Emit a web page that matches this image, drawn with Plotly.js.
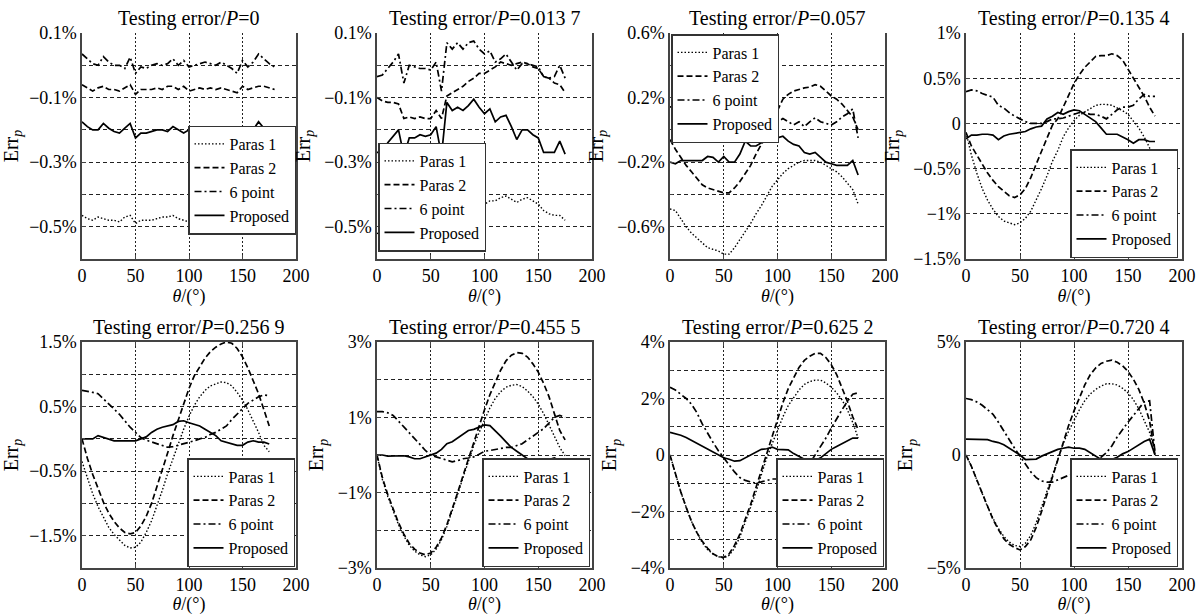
<!DOCTYPE html>
<html><head><meta charset="utf-8">
<script src="https://cdn.plot.ly/plotly-3.0.1.min.js"></script>
<style>html,body{margin:0;padding:0;background:#fff}#chart{width:1198px;height:615px}</style>
</head><body><div id="chart"></div>
<script>
// ---------------- DATA ----------------
const seriesNames = ['Paras 1','Paras 2','6 point','Proposed'];
const xTickVals = [0,50,100,150,200];
const xTickText = ['0','50','100','150','200'];

const thetaLong = [0,5,10,15,20,25,30,35,40,45,50,55,60,65,70,75,80,85,90,95,100,105,110,115,120,125,130,135,140,145,150,155,160,165,170,175,180];
const theta = [0,5,10,15,20,25,30,35,40,45,50,55,60,65,70,75,80,85,90,95,100,105,110,115,120,125,130,135,140,145,150,155,160,165,170,175];

const pValues = ['0','0.013 7','0.057','0.135 4','0.256 9','0.455 5','0.625 2','0.720 4'];

// P = 0
const p0_paras1 = [-0.465,-0.475,-0.48,-0.47,-0.475,-0.48, -0.48,-0.485,-0.47,-0.465,-0.49,-0.48, -0.48,-0.48,-0.475,-0.47,-0.47,-0.465, -0.475,-0.48,-0.485,-0.475,-0.475,-0.47, -0.475,-0.475,-0.475,-0.48,-0.485,-0.49, -0.475,-0.475,-0.47,-0.465,-0.47,-0.475,-0.48];
const p0_paras2 = [-0.06,-0.07,-0.08,-0.07,-0.065,-0.075, -0.075,-0.08,-0.07,-0.06,-0.09,-0.075, -0.075,-0.075,-0.07,-0.075,-0.065,-0.065, -0.075,-0.065,-0.08,-0.075,-0.07,-0.075, -0.07,-0.075,-0.07,-0.075,-0.08,-0.085, -0.065,-0.075,-0.07,-0.065,-0.065,-0.07,-0.075];
const p0_six    = [0.035,0.02,0.005,0.0,0.027,0.01, 0.0,0.0,-0.01,0.025,-0.025,-0.005, -0.01,0.0,0.005,0.0,0.005,0.02, 0.0,0.015,-0.005,0.0,0.005,0.01, 0.005,0.0,0.01,0.0,-0.01,-0.025, 0.015,-0.005,0.01,0.035,0.02,0.005,-0.005];
const p0_prop   = [-0.175,-0.19,-0.2,-0.2,-0.18,-0.195, -0.205,-0.21,-0.195,-0.18,-0.225,-0.21, -0.21,-0.205,-0.2,-0.2,-0.205,-0.19, -0.2,-0.21,-0.2,-0.205,-0.2,-0.2, -0.205,-0.2,-0.205,-0.2,-0.225,-0.225, -0.19,-0.205,-0.2,-0.175,-0.195,-0.2,-0.21];

// P = 0.0137
const p1_paras1 = [-0.52,-0.525,-0.525,-0.525,-0.53,-0.57, -0.545,-0.55,-0.55,-0.555,-0.55,-0.535, -0.575,-0.46,-0.44,-0.44,-0.43,-0.43, -0.42,-0.43,-0.43,-0.42,-0.42,-0.41, -0.405,-0.415,-0.425,-0.415,-0.41,-0.42, -0.43,-0.45,-0.46,-0.465,-0.465,-0.48];
const p1_paras2 = [-0.1,-0.11,-0.115,-0.115,-0.12,-0.165, -0.16,-0.165,-0.16,-0.165,-0.165,-0.14, -0.165,-0.095,-0.085,-0.075,-0.065,-0.05, -0.04,-0.025,-0.025,-0.015,-0.005,0.01, 0.005,0.0,0.005,0.01,0.005,-0.005, -0.01,-0.035,-0.04,-0.055,-0.06,-0.085];
const p1_six    = [-0.035,-0.03,-0.01,0.01,0.035,-0.055, 0.0,-0.005,-0.01,-0.01,-0.015,0.01, -0.08,0.07,0.05,0.07,0.05,0.07, 0.075,0.05,0.035,0.045,0.01,0.02, 0.035,0.01,-0.015,0.005,0.005,0.0, -0.005,-0.035,-0.04,-0.035,0.0,-0.04];
const p1_prop   = [-0.27,-0.27,-0.24,-0.22,-0.2,-0.28, -0.225,-0.225,-0.215,-0.22,-0.215,-0.19, -0.28,-0.115,-0.14,-0.13,-0.14,-0.125, -0.105,-0.13,-0.15,-0.135,-0.175,-0.16, -0.155,-0.19,-0.23,-0.2,-0.2,-0.215, -0.225,-0.27,-0.27,-0.27,-0.235,-0.275];

// P = 0.057
const p2_paras1 = [-0.49,-0.5,-0.55,-0.6,-0.64,-0.67, -0.7,-0.73,-0.74,-0.75,-0.77,-0.77, -0.73,-0.68,-0.63,-0.58,-0.52,-0.47, -0.41,-0.35,-0.31,-0.27,-0.24,-0.22, -0.2,-0.19,-0.19,-0.19,-0.2,-0.22, -0.24,-0.26,-0.29,-0.33,-0.37,-0.46];
const p2_paras2 = [-0.06,-0.12,-0.17,-0.22,-0.26,-0.3, -0.34,-0.36,-0.37,-0.38,-0.39,-0.39, -0.36,-0.32,-0.27,-0.22,-0.15,-0.09, -0.02,0.05,0.12,0.19,0.22,0.24, 0.25,0.26,0.265,0.28,0.27,0.24, 0.21,0.19,0.16,0.12,0.08,0.0];
const p2_six    = [0.142,0.14,0.135,0.125,0.115,0.105, 0.09,0.08,0.075,0.04,0.02,-0.035, 0.0,0.03,0.06,0.0,0.005,0.02, 0.035,0.05,0.05,0.07,0.05,0.03, 0.05,0.02,0.05,0.075,0.05,0.04, 0.03,0.05,0.08,0.1,0.13,-0.05];
const p2_prop   = [-0.2,-0.21,-0.19,-0.19,-0.19,-0.19, -0.19,-0.165,-0.17,-0.2,-0.165,-0.2, -0.2,-0.15,-0.07,-0.1,-0.1,-0.08, -0.07,-0.045,-0.05,-0.04,-0.07,-0.09, -0.1,-0.14,-0.15,-0.14,-0.17,-0.2, -0.21,-0.22,-0.22,-0.22,-0.19,-0.28];

// P = 0.1354
const p3_paras1 = [-0.1,-0.35,-0.55,-0.72,-0.85,-0.95, -1.03,-1.08,-1.1,-1.12,-1.1,-1.05, -0.97,-0.85,-0.72,-0.58,-0.42,-0.3, -0.15,-0.05,0.03,0.09,0.13,0.17, 0.2,0.21,0.21,0.2,0.17,0.14, 0.1,0.03,-0.05,-0.15,-0.27,-0.35];
const p3_paras2 = [-0.1,-0.25,-0.35,-0.45,-0.55,-0.63, -0.7,-0.75,-0.8,-0.82,-0.79,-0.72, -0.6,-0.45,-0.3,-0.15,-0.02,0.05, 0.18,0.32,0.44,0.54,0.62,0.68, 0.74,0.75,0.75,0.77,0.75,0.7, 0.6,0.5,0.4,0.3,0.18,0.08];
const p3_six    = [0.35,0.37,0.36,0.33,0.31,0.29, 0.2,0.17,0.12,0.08,0.05,0.02, 0.0,0.0,0.0,0.02,0.05,0.05, 0.06,0.08,0.1,0.12,0.12,0.1, 0.1,0.08,0.05,0.1,0.15,0.18, 0.18,0.2,0.27,0.32,0.3,0.3];
const p3_prop   = [-0.17,-0.13,-0.13,-0.12,-0.12,-0.13, -0.18,-0.14,-0.12,-0.11,-0.1,-0.09, -0.06,-0.04,-0.03,0.05,0.08,0.12, 0.1,0.13,0.15,0.14,0.1,0.06, 0.02,-0.05,-0.12,-0.12,-0.12,-0.15, -0.18,-0.22,-0.18,-0.18,-0.2,-0.2];

// P = 0.2569
const p4_paras1 = [-0.35,-0.6,-0.85,-1.05,-1.22,-1.37, -1.48,-1.57,-1.65,-1.69,-1.68,-1.6, -1.45,-1.27,-1.04,-0.8,-0.54,-0.3, -0.07,0.15,0.35,0.52,0.65,0.75, 0.82,0.85,0.88,0.87,0.82,0.72, 0.6,0.45,0.28,0.1,-0.1,-0.2];
const p4_paras2 = [0.0,-0.3,-0.55,-0.78,-0.98,-1.15, -1.28,-1.38,-1.45,-1.47,-1.45,-1.35, -1.2,-1.0,-0.75,-0.5,-0.22,0.05, 0.3,0.55,0.78,0.98,1.12,1.25, 1.35,1.42,1.47,1.5,1.48,1.4, 1.27,1.1,0.9,0.7,0.45,0.2];
const p4_six    = [0.75,0.74,0.72,0.7,0.62,0.55, 0.47,0.38,0.28,0.18,0.1,0.02, -0.02,-0.05,-0.07,-0.1,-0.13,-0.12, -0.1,-0.08,-0.05,-0.03,0.0,0.02, 0.07,0.1,0.15,0.2,0.3,0.38, 0.47,0.55,0.6,0.65,0.68,0.67];
const p4_prop   = [0.0,0.0,0.0,0.05,0.02,0.0, -0.03,-0.03,-0.03,-0.02,-0.03,0.0, 0.03,0.1,0.15,0.18,0.2,0.22, 0.27,0.28,0.25,0.23,0.2,0.15, 0.1,0.05,-0.03,-0.05,-0.07,-0.1, -0.1,-0.05,-0.03,-0.05,-0.05,-0.08];

// P = 0.4555
const p5_paras1 = [0.0,-0.65,-1.1,-1.5,-1.85,-2.15, -2.4,-2.55,-2.65,-2.7,-2.65,-2.5, -2.25,-1.9,-1.5,-1.05,-0.6,-0.15, 0.25,0.6,0.95,1.25,1.5,1.68, 1.8,1.85,1.87,1.82,1.7,1.55, 1.35,1.1,0.8,0.5,0.2,-0.02];
const p5_paras2 = [0.0,-0.6,-1.05,-1.45,-1.8,-2.1, -2.35,-2.5,-2.6,-2.65,-2.6,-2.45, -2.2,-1.85,-1.45,-1.0,-0.55,-0.1, 0.35,0.8,1.2,1.6,1.95,2.25, 2.5,2.65,2.72,2.7,2.6,2.42, 2.2,1.9,1.55,1.1,0.65,0.4];
const p5_six    = [1.15,1.15,1.12,1.05,0.9,0.75, 0.6,0.45,0.28,0.12,0.0,-0.05, -0.1,-0.15,-0.18,-0.15,-0.1,-0.08, -0.05,0.02,0.1,0.12,0.15,0.17, 0.2,0.2,0.25,0.3,0.4,0.5, 0.6,0.7,0.85,1.0,1.05,1.0];
const p5_prop   = [0.0,0.0,-0.03,-0.03,-0.03,-0.02, -0.05,-0.1,-0.1,-0.05,0.0,0.05, 0.15,0.3,0.35,0.45,0.55,0.65, 0.68,0.75,0.8,0.78,0.65,0.5, 0.35,0.2,0.1,0.0,-0.1,-0.15, -0.15,-0.15,-0.12,-0.08,-0.15,-0.15];

// P = 0.6252
const p6_paras1 = [0.0,-0.7,-1.3,-1.85,-2.35,-2.75, -3.1,-3.35,-3.5,-3.6,-3.65,-3.55, -3.3,-2.9,-2.4,-1.85,-1.3,-0.7, -0.1,0.4,0.9,1.35,1.75,2.05, 2.3,2.5,2.6,2.65,2.65,2.55, 2.4,2.2,1.95,1.6,1.15,0.6];
const p6_paras2 = [0.0,-0.7,-1.3,-1.85,-2.35,-2.75, -3.05,-3.3,-3.5,-3.6,-3.62,-3.5, -3.2,-2.8,-2.3,-1.75,-1.15,-0.55, 0.1,0.7,1.3,1.85,2.35,2.75, 3.1,3.35,3.5,3.6,3.6,3.45, 3.2,2.85,2.4,1.9,1.35,0.9];
const p6_six    = [2.4,2.3,2.15,2.0,1.8,1.5, 1.1,0.75,0.45,0.15,-0.1,-0.35, -0.6,-0.8,-0.9,-0.95,-1.0,-0.95, -0.9,-0.85,-0.85,-0.8,-0.75,-0.65, -0.55,-0.45,-0.3,0.0,0.3,0.6, 0.95,1.3,1.6,1.9,2.15,2.2];
const p6_prop   = [0.8,0.75,0.7,0.62,0.52,0.42, 0.32,0.22,0.12,0.0,-0.1,-0.15, -0.22,-0.2,-0.1,0.0,0.1,0.2, 0.22,0.28,0.2,0.2,0.18,0.05, -0.05,-0.15,-0.22,-0.2,-0.1,0.05, 0.2,0.3,0.4,0.5,0.6,0.6];

// P = 0.7204
const p7_paras1 = [0.0,-0.5,-1.1,-1.7,-2.3,-2.8, -3.25,-3.6,-3.85,-4.0,-4.05,-3.9, -3.55,-3.0,-2.3,-1.55,-0.8,-0.1, 0.5,1.05,1.55,2.0,2.4,2.7, 2.9,3.05,3.15,3.15,3.1,2.95, 2.75,2.45,2.05,1.55,1.0,0.2];
const p7_paras2 = [0.0,-0.5,-1.1,-1.7,-2.3,-2.85, -3.3,-3.7,-3.95,-4.1,-4.2,-4.05, -3.75,-3.2,-2.5,-1.75,-0.95,-0.15, 0.6,1.3,1.95,2.55,3.1,3.55, 3.85,4.05,4.15,4.2,4.1,3.95, 3.7,3.35,2.9,2.3,1.5,0.0];
const p7_six    = [2.5,2.45,2.35,2.2,2.0,1.8, 1.45,1.05,0.65,0.3,-0.05,-0.4, -0.75,-1.0,-1.15,-1.2,-1.2,-1.1, -1.0,-0.9,-0.8,-0.7,-0.55,-0.4, -0.25,-0.1,0.1,0.4,0.8,1.15, 1.45,1.75,2.05,2.35,2.4,0.1];
const p7_prop   = [0.7,0.7,0.7,0.7,0.68,0.6, 0.55,0.45,0.3,0.15,0.0,-0.2, -0.2,-0.18,-0.05,0.05,0.15,0.25, 0.3,0.35,0.3,0.3,0.25,0.1, -0.05,-0.2,-0.25,-0.2,-0.1,0.05, 0.15,0.3,0.45,0.6,0.7,0.0];

// y ranges, tick labels and grid values per panel
const yRanges = [[-0.6,0.1],[-0.6,0.1],[-0.8,0.6],[-1.5,1],[-2,1.5],[-3,3],[-4,4],[-5,5]];
const yTickVals = [[0.1,-0.1,-0.3,-0.5],[0.1,-0.1,-0.3,-0.5],[0.6,0.2,-0.2,-0.6],[1,0.5,0,-0.5,-1,-1.5],
                   [1.5,0.5,-0.5,-1.5],[3,1,-1,-3],[4,2,0,-2,-4],[5,0,-5]];
const yTickText = [['0.1%','\u22120.1%','\u22120.3%','\u22120.5%'],['0.1%','\u22120.1%','\u22120.3%','\u22120.5%'],
                   ['0.6%','0.2%','\u22120.2%','\u22120.6%'],['1%','0.5%','0','\u22120.5%','\u22121%','\u22121.5%'],
                   ['1.5%','0.5%','\u22120.5%','\u22121.5%'],['3%','1%','\u22121%','\u22123%'],
                   ['4%','2%','0','\u22122%','\u22124%'],['5%','0','\u22125%']];
const yMinorGrid = [[0,-0.2,-0.4],[0,-0.2,-0.4],[0.4,0,-0.4],[],[1,0,-1],[2,0,-2],[3,1,-1,-3],[]];

const panelX = [thetaLong, theta, theta, theta, theta, theta, theta, theta];
const panelY = [
  [p0_paras1,p0_paras2,p0_six,p0_prop],[p1_paras1,p1_paras2,p1_six,p1_prop],
  [p2_paras1,p2_paras2,p2_six,p2_prop],[p3_paras1,p3_paras2,p3_six,p3_prop],
  [p4_paras1,p4_paras2,p4_six,p4_prop],[p5_paras1,p5_paras2,p5_six,p5_prop],
  [p6_paras1,p6_paras2,p6_six,p6_prop],[p7_paras1,p7_paras2,p7_six,p7_prop]];

// ---------------- LAYOUT ----------------
const W = 1198, H = 615;
const px = v => v / W, py = v => 1 - v / H;
const FONT = 'Liberation Serif';
const cols = [[82,296],[377,592],[670,885],[966,1182]];
const rows = [[33,259],[342,568]];
const dashes = ['1.5px,2px','6px,3px','7px,3px,2px,3px','solid'];
const ital = (t, size) => '<span style="font-style:italic;font-size:' + size + 'px">' + t + '</span>';

const traces = [];
const layout = {
  width: W, height: H, margin: {l:0,r:0,t:0,b:0},
  paper_bgcolor: '#fff', plot_bgcolor: '#fff',
  font: {family: FONT, color: '#000', size: 16},
  showlegend: true, annotations: []
};

const legendPos = [
  {x: px(296), y: py(180), xanchor: 'right', yanchor: 'middle'},
  {x: px(378), y: py(197), xanchor: 'left', yanchor: 'middle'},
  {x: px(671), y: py(34), xanchor: 'left', yanchor: 'top'},
  {x: px(1178), y: py(258), xanchor: 'right', yanchor: 'bottom'},
  {x: px(295), y: py(567), xanchor: 'right', yanchor: 'bottom'},
  {x: px(590), y: py(567), xanchor: 'right', yanchor: 'bottom'},
  {x: px(884), y: py(567), xanchor: 'right', yanchor: 'bottom'},
  {x: px(1178), y: py(567), xanchor: 'right', yanchor: 'bottom'}
];

for (let i = 0; i < 8; i++) {
  const r = Math.floor(i / 4), c = i % 4;
  const xa = 'xaxis' + (i ? i + 1 : ''), ya = 'yaxis' + (i ? i + 1 : '');
  const xr = 'x' + (i ? i + 1 : ''), yr = 'y' + (i ? i + 1 : '');
  const lg = 'legend' + (i ? i + 1 : '');
  const [x0, x1] = cols[c], [y0, y1] = rows[r];

  layout[xa] = {
    domain: [px(x0), px(x1)], anchor: yr, range: [0, 200],
    tickmode: 'array', tickvals: xTickVals, ticktext: xTickText,
    showgrid: true, gridcolor: '#222', gridwidth: 1, griddash: '2px,2px',
    zeroline: false, showline: true, linecolor: '#444', linewidth: 1.6,
    mirror: r === 1 ? 'ticks' : false, ticks: 'inside', ticklen: 4, tickcolor: '#444',
    tickfont: {family: FONT, size: 18, color: '#000'}, fixedrange: true,
    title: {text: ital('\u03b8', 18) + '/(\u00b0)', font: {family: FONT, size: 18, color: '#000'}, standoff: 2}
  };
  layout[ya] = {
    domain: [py(y1), py(y0)], anchor: xr, range: yRanges[i],
    tickmode: 'array', tickvals: yTickVals[i], ticktext: yTickText[i],
    showgrid: true, gridcolor: '#222', gridwidth: 1, griddash: '4px,3px',
    minor: {tickmode: 'array', tickvals: yMinorGrid[i], showgrid: true, gridcolor: '#222', gridwidth: 1, griddash: '4px,3px', ticks: 'inside', ticklen: 3, tickcolor: '#444'},
    zeroline: false, showline: true, linecolor: '#444', linewidth: 1.6,
    mirror: true, ticks: 'inside', ticklen: 4, tickcolor: '#444',
    tickfont: {family: FONT, size: 18, color: '#000'}, fixedrange: true,
    title: {text: 'Err<sub>' + ital('p', 14) + '</sub>', font: {family: FONT, size: 20, color: '#000'}, standoff: 8}
  };
  layout[lg] = Object.assign({
    xref: 'paper', yref: 'paper', bgcolor: '#fff', bordercolor: '#333', borderwidth: 1.5,
    font: {family: FONT, size: 16, color: '#000'}, tracegroupgap: 0, itemclick: false
  }, legendPos[i]);

  for (let s = 0; s < 4; s++) {
    traces.push({
      type: 'scatter', mode: 'lines', name: seriesNames[s],
      x: panelX[i], y: panelY[i][s], xaxis: xr, yaxis: yr, legend: lg,
      line: {color: '#000', width: s === 0 ? 1.4 : 1.7, dash: dashes[s]},
      hoverinfo: 'skip'
    });
  }

  // subplot title
  layout.annotations.push({
    xref: 'paper', yref: 'paper', x: px((x0 + x1) / 2), y: py(y0 - 1), xanchor: 'center', yanchor: 'bottom',
    text: 'Testing error/' + ital('P', 20) + '=' + pValues[i], showarrow: false, font: {family: FONT, size: 20, color: '#000'}
  });
}

Plotly.newPlot('chart', traces, layout, {staticPlot: true, displayModeBar: false});
</script></body></html>
